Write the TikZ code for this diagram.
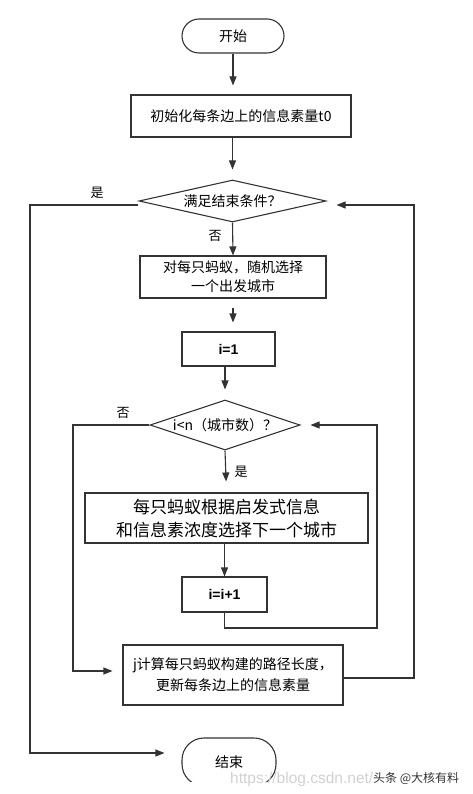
\documentclass[tikz,border=0pt]{standalone}
\usepackage{fontspec}
\setmainfont{Noto Sans CJK SC}
\newfontfamily\lat{Liberation Sans}
\usetikzlibrary{arrows.meta,shapes.geometric,calc}
\tikzset{
  ln/.style={line width=1.1pt,draw=black!80},
  arr/.style={ln,-{Triangle[length=9pt,width=7pt]}},
  boxn/.style={ln,rectangle,inner sep=0pt,align=center,font=\fontsize{14}{19}\selectfont},
  term/.style={ln,rectangle,rounded corners=17pt,inner sep=0pt,font=\fontsize{14}{17}\selectfont},
  dec/.style={ln,diamond,inner sep=0pt,font=\fontsize{14}{17}\selectfont},
  lab/.style={inner sep=0pt,font=\fontsize{13}{15}\selectfont}
}
\begin{document}
\begin{tikzpicture}[x=1pt,y=-1pt]
\useasboundingbox (0,0) rectangle (473,794);
\node[term,minimum width=102pt,minimum height=34pt] (start) at (233,36) {开始};
\node[boxn,minimum width=220pt,minimum height=42pt] (init) at (241,116) {初始化每条边上的信息素量t0};
\node[dec,minimum width=187pt,minimum height=42pt,aspect=4.45] (d1) at (232.5,201) {满足结束条件？};
\node[boxn,minimum width=186pt,minimum height=42pt] (box2) at (233,277) {对每只蚂蚁，随机选择\\一个出发城市};
\node[boxn,minimum width=93pt,minimum height=34pt,font=\lat\bfseries\fontsize{14}{17}\selectfont] (i1) at (228.5,349) {i=1};
\node[dec,minimum width=150pt,minimum height=50pt,aspect=3] (d2) at (225,425) {i<n（城市数）？};
\node[boxn,minimum width=283pt,minimum height=50pt,font=\fontsize{17}{23}\selectfont] (box3) at (226.5,518) {每只蚂蚁根据启发式信息\\和信息素浓度选择下一个城市};
\node[boxn,minimum width=85pt,minimum height=35pt,font=\lat\bfseries\fontsize{14}{17}\selectfont] (ii1) at (224.5,594.5) {i=i+1};
\node[boxn,minimum width=220pt,minimum height=60pt,font=\fontsize{14}{21}\selectfont] (box4) at (233,675) {j计算每只蚂蚁构建的路径长度，\\更新每条边上的信息素量};
\begin{scope}
\clip (0,0) rectangle (473,781);
\node[term,minimum width=94pt,minimum height=48pt,rounded corners=22pt] (end) at (229,762) {结束};
\end{scope}
\coordinate (loopA) at (377,628);
\coordinate (loopB) at (73,671);
\coordinate (loopC) at (414,678);
\coordinate (loopD) at (30,753);
% connectors
\draw[arr,shorten >=9pt] (start.south) -- (start.south |- init.north);
\draw[arr,shorten >=10pt] (d1.north |- init.south) -- (d1.north);
\draw[arr] (d1.south) -- (box2.north);
\draw[arr,shorten <=9pt,shorten >=9pt] (box2.south) -- (box2.south |- i1.north);
\draw[arr,shorten >=10pt] (i1.south -| d2.north) -- (d2.north);
\draw[arr,shorten >=11pt] (d2.south) -- (box3.north);
\draw[arr] (box3.south -| ii1.north) -- (ii1.north);
\draw[arr,shorten >=10pt] (ii1.south) |- (loopA) |- (d2.east);
\draw[arr,shorten >=10pt] (d2.west) -| (loopB) -- (loopB -| box4.west);
\draw[arr,shorten >=10pt] (box4.east |- loopC) -- (loopC) |- ($(d1.east)+(0,4)$);
\draw[arr,shorten >=17pt] ($(d1.west)+(0,4)$) -| (loopD) -- (loopD -| end.west);
% labels
\node[lab] (l1) at (97,193) {是};
\node[lab] (l2) at (215,236) {否};
\node[lab] (l3) at (123,413) {否};
\node[lab] (l4) at (241,472) {是};
% watermark
\node[inner sep=0pt,anchor=west,text=black!18,font=\lat\fontsize{15.5}{17}\selectfont] (wm1) at (230,779) {https://blog.csdn.net/};
\node[inner sep=0pt,anchor=west,text=black!80,font=\fontsize{12}{14}\selectfont] (wm2) at (373,778) {头条 @大核有料};
\end{tikzpicture}
\end{document}
